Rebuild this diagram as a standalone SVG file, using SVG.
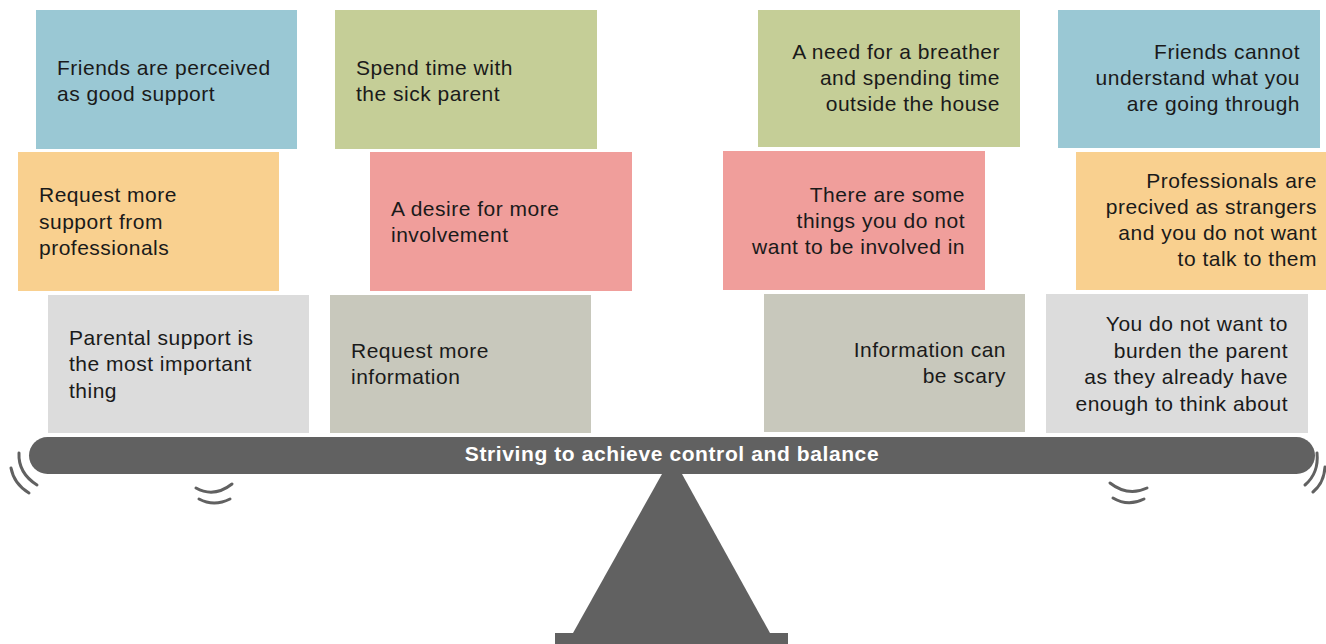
<svg xmlns="http://www.w3.org/2000/svg" width="1326" height="644" viewBox="0 0 1326 644">
<style>
.t{font-family:"Liberation Sans",Arial,sans-serif;font-size:21px;letter-spacing:0.5px;fill:#1a1a1a}
.r{text-anchor:end}
.blue{fill:#9AC8D4}.green{fill:#C5CE97}.orange{fill:#F9D08F}.pink{fill:#F09E9B}.lgray{fill:#DCDCDC}.bgray{fill:#C8C8BC}
.w{fill:none;stroke:#616161;stroke-width:3;stroke-linecap:round}
</style>
<rect width="1326" height="644" fill="#fff"/>
<g id="n1"><rect class="blue" x="36" y="10" width="261" height="139"/><text class="t" x="57" y="75">Friends are perceived</text><text class="t" x="57" y="101">as good support</text></g>
<g id="n2"><rect class="green" x="335" y="10" width="262" height="139"/><text class="t" x="356" y="75">Spend time with</text><text class="t" x="356" y="101">the sick parent</text></g>
<g id="n3"><rect class="green" x="758" y="10" width="262" height="137"/><text class="t r" x="1000" y="59">A need for a breather</text><text class="t r" x="1000" y="85">and spending time</text><text class="t r" x="1000" y="111">outside the house</text></g>
<g id="n4"><rect class="blue" x="1058" y="10" width="262" height="138"/><text class="t r" x="1300" y="59">Friends cannot</text><text class="t r" x="1300" y="85">understand what you</text><text class="t r" x="1300" y="111">are going through</text></g>
<g id="n5"><rect class="orange" x="18" y="152" width="261" height="139"/><text class="t" x="39" y="202">Request more</text><text class="t" x="39" y="229">support from</text><text class="t" x="39" y="255">professionals</text></g>
<g id="n6"><rect class="pink" x="370" y="152" width="262" height="139"/><text class="t" x="391" y="216">A desire for more</text><text class="t" x="391" y="242">involvement</text></g>
<g id="n7"><rect class="pink" x="723" y="151" width="262" height="139"/><text class="t r" x="965" y="202">There are some</text><text class="t r" x="965" y="228">things you do not</text><text class="t r" x="965" y="254">want to be involved in</text></g>
<g id="n8"><rect class="orange" x="1076" y="152" width="250" height="138"/><text class="t r" x="1317" y="188">Professionals are</text><text class="t r" x="1317" y="214">precived as strangers</text><text class="t r" x="1317" y="240">and you do not want</text><text class="t r" x="1317" y="266">to talk to them</text></g>
<g id="n9"><rect class="lgray" x="48" y="295" width="261" height="138"/><text class="t" x="69" y="345">Parental support is</text><text class="t" x="69" y="371">the most important</text><text class="t" x="69" y="398">thing</text></g>
<g id="n10"><rect class="bgray" x="330" y="295" width="261" height="138"/><text class="t" x="351" y="358">Request more</text><text class="t" x="351" y="384">information</text></g>
<g id="n11"><rect class="bgray" x="764" y="294" width="261" height="138"/><text class="t r" x="1006" y="357">Information can</text><text class="t r" x="1006" y="383">be scary</text></g>
<g id="n12"><rect class="lgray" x="1046" y="294" width="262" height="139"/><text class="t r" x="1288" y="331">You do not want to</text><text class="t r" x="1288" y="358">burden the parent</text><text class="t r" x="1288" y="384">as they already have</text><text class="t r" x="1288" y="411">enough to think about</text></g>
<g id="fulcrum">
<polygon points="662,474 682,474 770,633 573,633" fill="#616161"/>
<rect x="555" y="633" width="233" height="11" fill="#616161"/>
</g>
<g id="beam">
<rect x="29" y="437" width="1286" height="37" rx="18.5" fill="#616161"/>
<text x="672" y="461" text-anchor="middle" style="font-family:'Liberation Sans',Arial,sans-serif;font-size:21px;letter-spacing:0.6px;font-weight:bold;fill:#fff">Striving to achieve control and balance</text>
</g>
<g id="connectors">
<path class="w" d="M19,453 Q18,473 37,485"/>
<path class="w" d="M11,468 Q14,484 29,493"/>
<path class="w" d="M196,488 Q214,498 232,484"/>
<path class="w" d="M199,499 Q214,507 230,499"/>
<path class="w" d="M1110,483 Q1128,497 1147,488"/>
<path class="w" d="M1113,498 Q1128,507 1144,499"/>
<path class="w" d="M1317,453 Q1319,473 1305,485"/>
<path class="w" d="M1325,467 Q1324,483 1313,492"/>
</g>
</svg>
